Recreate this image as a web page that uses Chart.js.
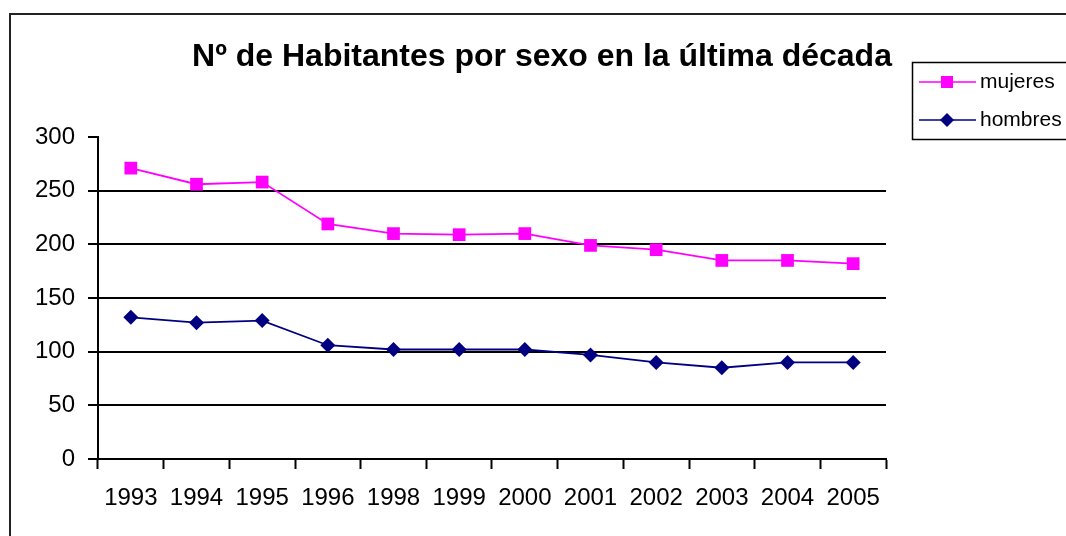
<!DOCTYPE html>
<html lang="es">
<head>
    <meta charset="UTF-8">
    <title>Nº de Habitantes por sexo</title>
    <script src="https://cdn.jsdelivr.net/npm/chart.js"></script>
    <style>
        html, body { margin: 0; padding: 0; background: #fff; }
        #wrap { width: 1066px; height: 536px; position: relative; }
    </style>
</head>
<body>
    <div id="wrap"><canvas id="habChart"></canvas></div>
    <script>
        // data
        const years = ['1993', '1994', '1995', '1996', '1998', '1999', '2000', '2001', '2002', '2003', '2004', '2005'];
        const mujeres = [271, 256, 258, 219, 210, 209, 210, 199, 195, 185, 185, 182];
        const hombres = [132, 127, 129, 106, 102, 102, 102, 97, 90, 85, 90, 90];
        const titleText = 'Nº de Habitantes por sexo en la última década';

        const FONT = '"Liberation Sans", Arial, sans-serif';
        const PINK = '#ff00ff';
        const NAVY = '#000080';

        // outer frame, title and the boxed legend on the right
        const decoPlugin = {
            id: 'decoPlugin',
            afterDraw: (chart) => {
                const ctx = chart.ctx;
                ctx.save();
                ctx.strokeStyle = '#222';
                ctx.lineWidth = 2;
                ctx.strokeRect(10, 14, 1100, 600);

                ctx.fillStyle = '#000';
                ctx.font = 'bold 32px ' + FONT;
                ctx.textAlign = 'center';
                ctx.textBaseline = 'alphabetic';
                ctx.fillText(titleText, 542, 66);

                ctx.lineWidth = 1.5;
                ctx.strokeStyle = '#000';
                ctx.strokeRect(912.5, 62.5, 200, 77);

                ctx.font = '21px ' + FONT;
                ctx.textAlign = 'left';
                ctx.textBaseline = 'middle';
                chart.data.datasets.forEach((ds, i) => {
                    const y = 82 + i * 38;
                    ctx.strokeStyle = ds.borderColor;
                    ctx.lineWidth = 1.5;
                    ctx.beginPath();
                    ctx.moveTo(919, y);
                    ctx.lineTo(976, y);
                    ctx.stroke();
                    ctx.fillStyle = ds.backgroundColor;
                    ctx.beginPath();
                    if (ds.pointStyle === 'rect') {
                        ctx.rect(947 - 6, y - 6, 12, 12);
                    } else {
                        ctx.moveTo(947 - 7, y);
                        ctx.lineTo(947, y - 7);
                        ctx.lineTo(947 + 7, y);
                        ctx.lineTo(947, y + 7);
                        ctx.closePath();
                    }
                    ctx.fill();
                    ctx.fillStyle = '#000';
                    ctx.fillText(ds.label, 980, y);
                });
                ctx.restore();
            }
        };

        const ctx = document.getElementById('habChart').getContext('2d');
        new Chart(ctx, {
            type: 'line',
            data: {
                labels: years,
                datasets: [{
                    label: 'mujeres',
                    data: mujeres,
                    borderColor: PINK,
                    backgroundColor: PINK,
                    borderWidth: 1.8,
                    pointStyle: 'rect',
                    pointRadius: 9,
                    pointHoverRadius: 9,
                    pointBorderWidth: 0,
                    tension: 0
                }, {
                    label: 'hombres',
                    data: hombres,
                    borderColor: NAVY,
                    backgroundColor: NAVY,
                    borderWidth: 1.8,
                    pointStyle: 'rectRot',
                    pointRadius: 7.5,
                    pointHoverRadius: 7.5,
                    pointBorderWidth: 0,
                    tension: 0
                }]
            },
            options: {
                animation: false,
                responsive: true,
                maintainAspectRatio: false,
                layout: {
                    padding: { top: 137, right: 180, left: 0, bottom: 0 }
                },
                scales: {
                    x: {
                        offset: true,
                        grid: {
                            offset: true,
                            drawOnChartArea: false,
                            tickLength: 10,
                            tickColor: '#000',
                            tickWidth: 2
                        },
                        border: { color: '#000', width: 2 },
                        ticks: {
                            color: '#000',
                            padding: 15,
                            maxRotation: 0,
                            autoSkip: false,
                            font: { family: FONT, size: 24 }
                        },
                        afterFit: (scale) => { scale.height = 77; }
                    },
                    y: {
                        min: 0,
                        max: 300,
                        grid: {
                            color: (c) => (c.tick && c.tick.value === 300) ? 'rgba(0,0,0,0)' : '#000',
                            lineWidth: 2,
                            tickLength: 10,
                            tickColor: '#000',
                            tickWidth: 2
                        },
                        border: { color: '#000', width: 2 },
                        ticks: {
                            stepSize: 50,
                            color: '#000',
                            padding: 13,
                            font: { family: FONT, size: 24 }
                        },
                        afterFit: (scale) => { scale.width = 98; }
                    }
                },
                plugins: {
                    legend: { display: false },
                    title: { display: false },
                    tooltip: { enabled: false }
                }
            },
            plugins: [decoPlugin]
        });
    </script>
</body>
</html>
